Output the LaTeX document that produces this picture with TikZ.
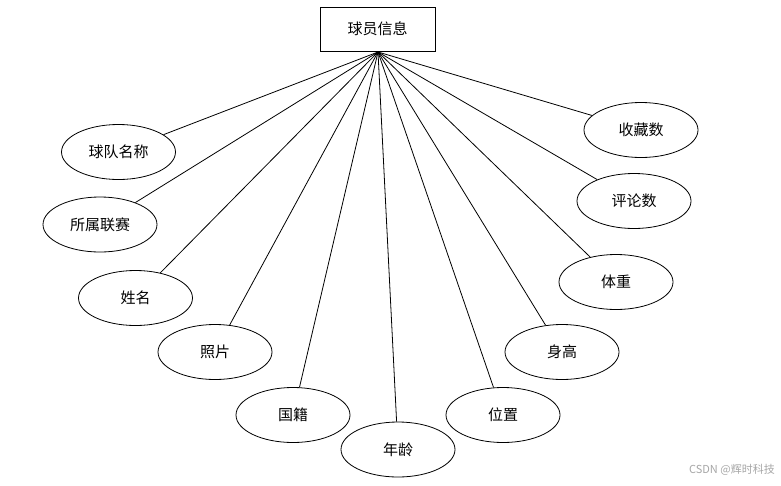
\documentclass[tikz,border=0pt]{standalone}
\usepackage{fontspec}
\newfontfamily\cjk{Noto Sans CJK SC}
\usetikzlibrary{shapes.geometric}
\begin{document}
\begin{tikzpicture}[x=1pt,y=-1pt,
  entity/.style={draw,line width=0.8pt,rectangle,minimum width=115pt,minimum height=44pt,inner sep=0pt,font=\cjk\fontsize{15}{15}\selectfont},
  attr/.style={draw,line width=0.8pt,ellipse,minimum width=114pt,minimum height=55pt,inner sep=0pt,font=\cjk\fontsize{15}{15}\selectfont},
  link/.style={line width=0.8pt}]
\useasboundingbox (0,0) rectangle (781,485);
\node[entity] (e) at (377.5,29) {球员信息};
\coordinate (hub) at (378,52);
\node[attr] (a1) at (118.5,152) {球队名称};
\node[attr] (a2) at (100,224.5) {所属联赛};
\node[attr] (a3) at (135.5,298) {姓名};
\node[attr] (a4) at (215,352) {照片};
\node[attr] (a5) at (293,415) {国籍};
\node[attr] (a6) at (398,449.5) {年龄};
\node[attr] (a7) at (503,415) {位置};
\node[attr] (a8) at (562,352) {身高};
\node[attr] (a9) at (616,282) {体重};
\node[attr] (a10) at (634,201) {评论数};
\node[attr] (a11) at (641,130) {收藏数};
\foreach \i in {1,...,11} {\draw[link] (hub) -- (a\i);}
\node[anchor=east,text=black!35,font=\cjk\fontsize{11}{11}\selectfont,inner sep=0pt] (wm) at (775,470) {CSDN @辉时科技};
\end{tikzpicture}
\end{document}
